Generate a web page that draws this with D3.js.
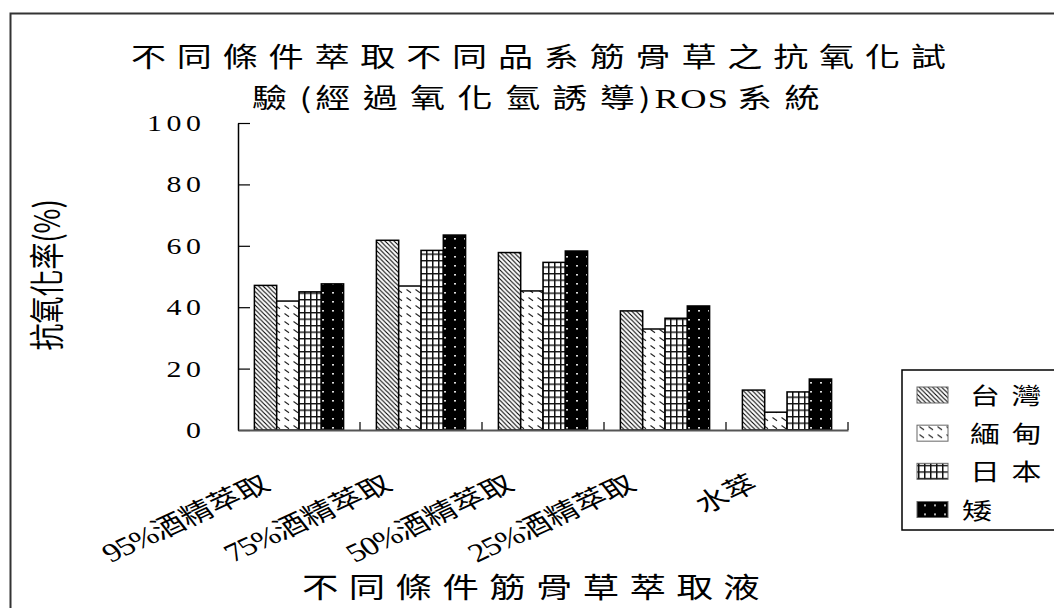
<!DOCTYPE html>
<html>
<head>
<meta charset="utf-8">
<script src="https://cdn.jsdelivr.net/npm/d3@7"></script>
<style>
  html, body { margin: 0; padding: 0; background: #fff; }
  svg { display: block; }
</style>
</head>
<body>
<svg id="chart" width="1054" height="608"></svg>
<script>
// Extraction conditions (x categories)
const categories = ["95%酒精萃取", "75%酒精萃取", "50%酒精萃取", "25%酒精萃取", "水萃"];
// Plant strains (series)
const seriesNames = ["台灣", "緬甸", "日本", "矮"];
// Antioxidant rate (%) per strain, one value per extraction condition
const taiwan  = [47.1, 61.8, 57.8, 38.8, 13.0];
const myanmar = [42.0, 46.9, 45.3, 32.9, 5.8];
const japan   = [45.0, 58.5, 54.6, 36.4, 12.4];
const dwarf   = [47.6, 63.5, 58.3, 40.4, 16.6];
// Y axis ticks
const yTicks = [0, 20, 40, 60, 80, 100];

const seriesValues = [taiwan, myanmar, japan, dwarf];
const patternIds = ["pTW", "pMM", "pJP", "pDW"];

const CJK = "'Noto Sans CJK TC', 'Noto Sans CJK SC', sans-serif";
const SERIF = "'Liberation Serif', 'DejaVu Serif', serif";
const SX = 1.3; // horizontal stretch of the lettering

const svg = d3.select("#chart");

// ---- fill patterns ----
const defs = svg.append("defs");
// diagonal hatch
const pTW = defs.append("pattern").attr("id", "pTW").attr("patternUnits", "userSpaceOnUse")
  .attr("width", 4.5).attr("height", 4.5);
pTW.append("rect").attr("width", 4.5).attr("height", 4.5).attr("fill", "#fff");
pTW.append("path").attr("d", "M-1,-1L5.5,5.5M-1,3.5L1,5.5M3.5,-1L5.5,1")
  .attr("stroke", "#000").attr("stroke-width", 1.1);
// dashed diagonals
const pMM = defs.append("pattern").attr("id", "pMM").attr("patternUnits", "userSpaceOnUse")
  .attr("width", 9).attr("height", 8);
pMM.append("rect").attr("width", 9).attr("height", 8).attr("fill", "#fff");
pMM.append("path").attr("d", "M1.5,1.5L6,4.8").attr("stroke", "#222").attr("stroke-width", 1.1);
// grid
const pJP = defs.append("pattern").attr("id", "pJP").attr("patternUnits", "userSpaceOnUse")
  .attr("width", 6).attr("height", 6.5);
pJP.append("rect").attr("width", 6).attr("height", 6.5).attr("fill", "#fff");
pJP.append("path").attr("d", "M0.75,0V6.5M0,0.6H6").attr("stroke", "#111").attr("stroke-width", 1.5);
// black with light dots
const pDW = defs.append("pattern").attr("id", "pDW").attr("patternUnits", "userSpaceOnUse")
  .attr("width", 10).attr("height", 9);
pDW.append("rect").attr("width", 10).attr("height", 9).attr("fill", "#000");
pDW.append("rect").attr("x", 4).attr("y", 4).attr("width", 2).attr("height", 1.6).attr("fill", "#ddd");

// ---- outer frame ----
svg.append("path").attr("d", "M10.5,620V13.5H1070")
  .attr("fill", "none").attr("stroke", "#333").attr("stroke-width", 2);

// ---- scales ----
const x = d3.scaleBand().domain(categories).range([238, 848]).paddingInner(0).paddingOuter(0);
const xs = d3.scaleBand().domain(seriesNames).range([0, x.bandwidth()]).paddingInner(0).paddingOuter(0.735);
const y = d3.scaleLinear().domain([0, 100]).range([430, 123]);

// ---- title ----
const title = svg.append("g").attr("font-family", CJK).attr("font-size", 27).attr("fill", "#000");
title.append("text").attr("transform", `translate(131,67) scale(${SX},1)`)
  .attr("letter-spacing", 8.3)
  .text("不同條件萃取不同品系筋骨草之抗氧化試");
const t2 = title.append("text").attr("transform", `translate(252,108) scale(${SX},1)`)
  .attr("letter-spacing", 9.5);
t2.append("tspan").text("驗");
t2.append("tspan").attr("letter-spacing", 3).text("(");
t2.append("tspan").text("經過氧化氫誘");
t2.append("tspan").attr("letter-spacing", 3).text("導)");
t2.append("tspan").attr("font-family", SERIF).attr("font-size", 28).attr("letter-spacing", 1).text("ROS");
t2.append("tspan").attr("dx", 6).text("系統");

// ---- bars ----
const groups = svg.append("g").selectAll("g.grp").data(categories).join("g")
  .attr("class", "grp").attr("transform", d => `translate(${x(d)},0)`);
groups.selectAll("rect").data((c, i) => seriesNames.map((s, k) => ({ s, k, v: seriesValues[k][i] })))
  .join("rect")
  .attr("x", d => xs(d.s))
  .attr("y", d => y(d.v))
  .attr("width", xs.bandwidth())
  .attr("height", d => y(0) - y(d.v))
  .attr("fill", d => `url(#${patternIds[d.k]})`)
  .attr("stroke", "#000").attr("stroke-width", 1.5);

// ---- y axis ----
const yAxis = d3.axisLeft(y).tickValues(yTicks).tickSizeInner(-12).tickSizeOuter(0).tickFormat("");
const gy = svg.append("g").attr("transform", "translate(238,0)").call(yAxis);
gy.select(".domain").attr("stroke", "#000").attr("stroke-width", 1.5);
gy.selectAll(".tick line").attr("stroke", "#000").attr("stroke-width", 1.2);

svg.append("g").selectAll("text").data(yTicks).join("text")
  .attr("transform", d => `translate(201,${y(d) + 8}) scale(${SX},1)`)
  .attr("text-anchor", "end").attr("font-family", SERIF).attr("font-size", 23)
  .attr("letter-spacing", 3.5).attr("dx", 3.5)
  .text(d => d);

// ---- x axis ----
const xAxis = d3.axisBottom(x).tickSizeInner(0).tickSizeOuter(0).tickFormat("");
const gx = svg.append("g").attr("transform", "translate(0,430)").call(xAxis);
gx.select(".domain").attr("stroke", "#555").attr("stroke-width", 2);
gx.selectAll(".tick line").remove();
// category boundary ticks
const bounds = categories.map(c => x(c) + x.bandwidth());
svg.append("g").selectAll("line").data(bounds).join("line")
  .attr("x1", d => d).attr("x2", d => d).attr("y1", 430).attr("y2", 422)
  .attr("stroke", "#333").attr("stroke-width", 1.5);

// category labels, slanted
const xl = svg.append("g").selectAll("text").data(categories).join("text")
  .attr("transform", d => `translate(${x(d) + x.bandwidth() / 2 - 33},481) scale(${SX},1) rotate(-31)`)
  .attr("text-anchor", "end").attr("dy", "0.35em").attr("font-family", CJK).attr("font-size", 25);
xl.each(function (d) {
  const m = d.match(/^([0-9]+%)(.*)$/);
  const t = d3.select(this);
  if (m) {
    t.append("tspan").attr("font-family", SERIF).attr("font-size", 26).attr("letter-spacing", -1).text(m[1]);
    t.append("tspan").text(m[2]);
  } else {
    t.append("tspan").text(d);
  }
});

// x axis title
svg.append("text").attr("transform", `translate(536,598) scale(${SX},1)`)
  .attr("text-anchor", "middle").attr("font-family", CJK).attr("font-size", 28)
  .attr("letter-spacing", 8).text("不同條件筋骨草萃取液");

// y axis title
svg.append("text").attr("transform", `translate(45,275) scale(${SX},1) rotate(-90)`)
  .attr("text-anchor", "middle").attr("dominant-baseline", "central")
  .attr("font-family", CJK).attr("font-size", 27).text("抗氧化率(%)");

// ---- legend ----
const legend = svg.append("g");
legend.append("rect").attr("x", 902).attr("y", 370).attr("width", 200).attr("height", 160)
  .attr("fill", "#fff").attr("stroke", "#000").attr("stroke-width", 1.5);
const rowY = d3.scalePoint().domain(seriesNames).range([395, 509.5]);
const items = legend.selectAll("g.item").data(seriesNames).join("g").attr("class", "item")
  .attr("transform", d => `translate(0,${rowY(d)})`);
items.append("rect").attr("x", 917).attr("y", -8).attr("width", 31).attr("height", 16)
  .attr("fill", (d, i) => `url(#${patternIds[i]})`).attr("stroke", "#666").attr("stroke-width", 1);
items.append("text")
  .attr("transform", (d, i) => `translate(${i === 3 ? 962 : 970},9) scale(${SX},1)`)
  .attr("font-family", CJK).attr("font-size", 23).attr("letter-spacing", 9)
  .text(d => d);
</script>
</body>
</html>
